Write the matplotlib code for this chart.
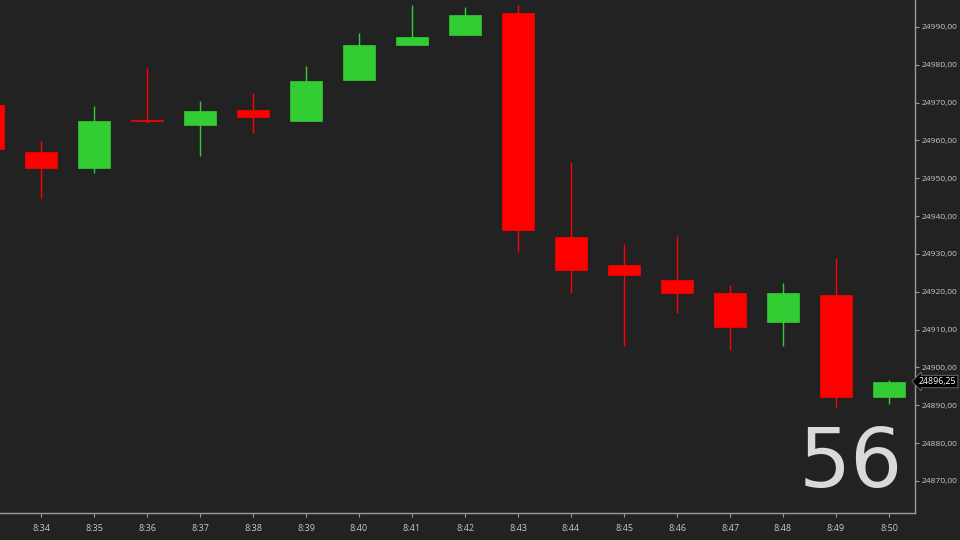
import matplotlib.pyplot as plt
from matplotlib.ticker import FuncFormatter

# Datos de las velas (1 minuto)
times = ['8:33', '8:34', '8:35', '8:36', '8:37', '8:38', '8:39', '8:40', '8:41',
         '8:42', '8:43', '8:44', '8:45', '8:46', '8:47', '8:48', '8:49', '8:50']
opens = [24969.4, 24957.0, 24952.7, 24965.5, 24964.1, 24968.1, 24965.2, 24976.0, 24985.2,
         24987.9, 24993.7, 24934.5, 24927.1, 24923.1, 24919.7, 24912.0, 24919.2, 24892.2]
closes = [24957.8, 24952.7, 24965.2, 24965.0, 24967.8, 24966.2, 24975.7, 24985.2, 24987.4,
          24993.2, 24936.3, 24925.8, 24924.4, 24919.7, 24910.7, 24919.7, 24892.2, 24896.25]
highs = [24972.0, 24959.9, 24969.1, 24979.2, 24970.4, 24972.6, 24979.7, 24988.4, 24995.8,
         24995.3, 24995.8, 24954.3, 24932.6, 24934.8, 24921.8, 24922.3, 24928.9, 24896.75]
lows = [24955.0, 24944.8, 24951.4, 24964.5, 24955.9, 24962.0, 24965.2, 24976.0, 24985.2,
        24987.9, 24930.5, 24919.7, 24905.7, 24914.4, 24904.6, 24905.7, 24889.6, 24890.3]
last_price = 24896.25
counter = '56'

bg = '#222222'
up_col = '#32cd32'
down_col = '#ff0000'
axis_col = '#9a9a9a'
text_col = '#c8c8c8'

fig = plt.figure(figsize=(9.6, 5.4), dpi=100, facecolor=bg)
ax = fig.add_axes([0, 27 / 540, 915 / 960, 513 / 540], facecolor=bg)

for i in range(len(times)):
    o, c, h, l = opens[i], closes[i], highs[i], lows[i]
    col = up_col if c >= o else down_col
    ax.vlines(i, l, h, color=col, linewidth=1, zorder=2)
    bottom = min(o, c)
    height = max(abs(c - o), 0.4)
    ax.bar(i, height, bottom=bottom, width=0.6, color=col, edgecolor=col,
           linewidth=0.5, zorder=3)

ax.set_xlim(0.226, 17.49)
ax.set_ylim(24861.5, 24997.1)

# Eje de precios a la derecha
ax.yaxis.tick_right()
ax.set_yticks(range(24870, 24991, 10))
ax.yaxis.set_major_formatter(FuncFormatter(lambda v, p: f'{v:.2f}'.replace('.', ',')))
ax.set_xticks(range(1, len(times)))
ax.set_xticklabels(times[1:])

for s in ['top', 'left']:
    ax.spines[s].set_visible(False)
for s in ['right', 'bottom']:
    ax.spines[s].set_color(axis_col)
    ax.spines[s].set_linewidth(1)

ax.tick_params(axis='both', colors=axis_col, labelcolor=text_col, labelsize=6.5,
               length=3, width=0.8, direction='out')
ax.tick_params(axis='y', pad=2, labelsize=6.1)
ax.tick_params(axis='x', pad=5)
for lab in ax.get_xticklabels() + ax.get_yticklabels():
    lab.set_family('Open Sans')

# Etiqueta del último precio
ax.text(1.004, last_price, f'{last_price:.2f}'.replace('.', ','),
        transform=ax.get_yaxis_transform(), ha='left', va='center',
        fontsize=6.3, color='white', family='Open Sans', clip_on=False, zorder=5,
        bbox=dict(boxstyle='larrow,pad=0.2', fc='black', ec='#777777', lw=0.6))

# Contador de la vela
ax.text(0.987, 0.018, counter, transform=ax.transAxes, ha='right', va='bottom',
        fontsize=59, color='#d9d9d9', family='DejaVu Sans')

fig.savefig('out.png', dpi=100, facecolor=bg)
